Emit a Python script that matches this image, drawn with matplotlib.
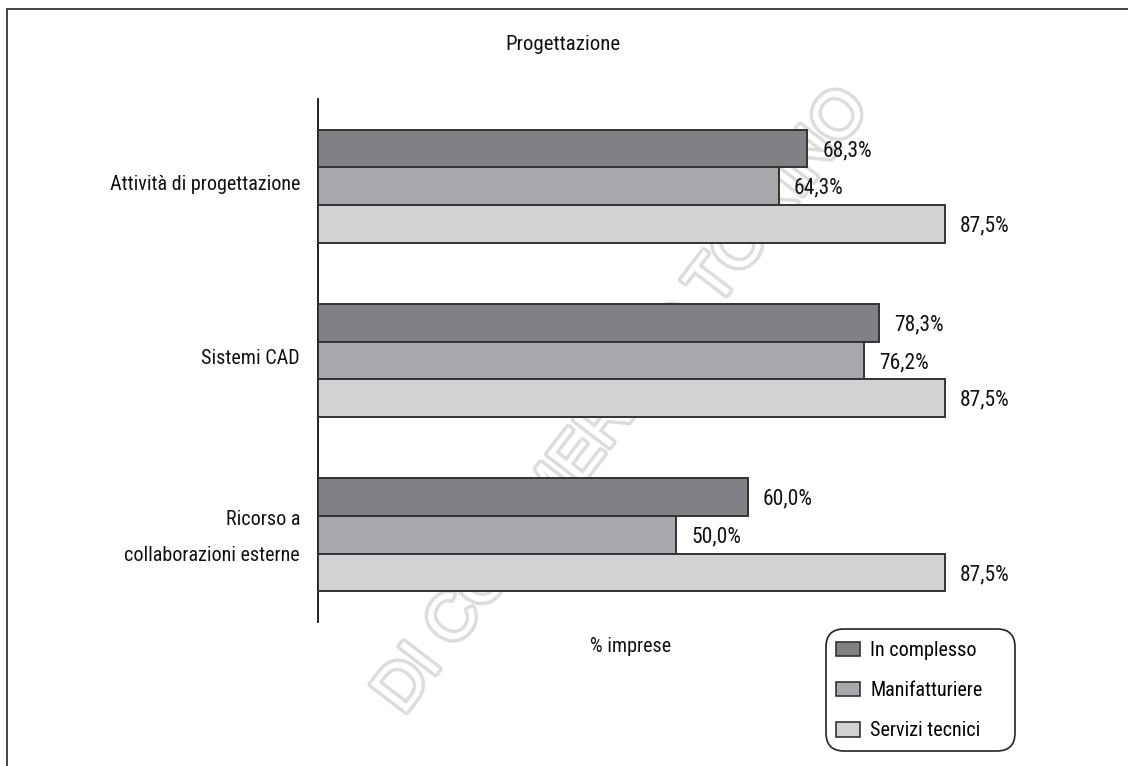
import matplotlib
matplotlib.use("Agg")
import matplotlib.pyplot as plt
from matplotlib import font_manager
from matplotlib.lines import Line2D
from matplotlib.patches import FancyBboxPatch
import matplotlib.patheffects as pe

# --- data -------------------------------------------------------------
categories = ["Attività di progettazione", "Sistemi CAD",
              "Ricorso a\ncollaborazioni esterne"]
series_names = ["In complesso", "Manifatturiere", "Servizi tecnici"]
in_complesso = [68.3, 78.3, 60.0]
manifatturiere = [64.3, 76.2, 50.0]
servizi_tecnici = [87.5, 87.5, 87.5]
title_text = "Progettazione"
xlabel_text = "% imprese"
watermark_text = "DI COMMERCIO TORINO"

series_values = [in_complesso, manifatturiere, servizi_tecnici]
colors = ["#808184", "#a7a8ab", "#d1d2d4"]
edge = "#333333"


def pick_narrow_font():
    """Return (family, stretch) of an installed narrow sans face, if any."""
    narrow = {"condensed", "semi-condensed", "extra-condensed",
              "ultra-condensed"}
    prefs = ["Liberation Sans Narrow", "Roboto Condensed",
             "Open Sans Condensed", "DejaVu Sans", "Noto Sans",
             "Open Sans", "Roboto"]
    found = {}
    for f in font_manager.fontManager.ttflist:
        nm = f.name
        st = str(f.stretch)
        if f.style != "normal":
            continue
        if "Narrow" in nm or "Condensed" in nm or st in narrow:
            if nm not in found:
                found[nm] = st if st in narrow else "normal"
    for p in prefs:
        if p in found:
            return p, found[p]
    for nm, st in found.items():
        if "Mono" not in nm and "Serif" not in nm:
            return nm, st
    return "DejaVu Sans", "normal"


FONT, STRETCH = pick_narrow_font()
plt.rcParams["font.family"] = [FONT, "DejaVu Sans"]
plt.rcParams["font.stretch"] = STRETCH

W, H = 1128, 766
fig = plt.figure(figsize=(W / 100, H / 100), dpi=100)


def fx(px):
    return px / W


def fy(py):
    return 1 - py / H


# frame lines around the panel
fig.add_artist(Line2D([fx(7), 1], [fy(8.5), fy(8.5)], color="#444444", lw=1.4,
                      transform=fig.transFigure))
fig.add_artist(Line2D([fx(7), fx(7)], [fy(8.5), 0], color="#444444", lw=1.4,
                      transform=fig.transFigure))

# faint outlined watermark, kept underneath the bars
bg = fig.add_axes([0, 0, 1, 1], zorder=-5)
bg.set_axis_off()
bg.set_xlim(0, 1)
bg.set_ylim(0, 1)
bg.text(fx(856), fy(98), watermark_text, rotation=52.5,
        rotation_mode="anchor", ha="right", va="center", fontsize=47,
        family="Liberation Sans", stretch="normal", color="white",
        path_effects=[pe.withStroke(linewidth=5.0, foreground="#dddddd")])

ax_left, ax_right, ax_top, ax_bottom = 318, 318 + 716.6, 99, 622
ax = fig.add_axes([fx(ax_left), fy(ax_bottom), fx(ax_right - ax_left),
                   (ax_bottom - ax_top) / H], zorder=1)
ax.patch.set_alpha(0)

bar_h = 0.216
offsets = [-bar_h, 0, bar_h]
ypos = list(range(len(categories)))
for vals, off, col in zip(series_values, offsets, colors):
    ys = [y + off for y in ypos]
    bars = ax.barh(ys, vals, height=bar_h, color=col, edgecolor=edge,
                   linewidth=1.4, zorder=3)
    for b, v in zip(bars, vals):
        ax.annotate(f"{v:.1f}%".replace(".", ","),
                    xy=(v, b.get_y() + b.get_height() / 2),
                    xytext=(15, -2), textcoords="offset pixels",
                    ha="left", va="center", fontsize=15.5, color="#111111")

# category labels to the left of the axis line
for y, lab in zip(ypos, categories):
    dy = -3 if "\n" in lab else 2
    ax.annotate(lab, xy=(0, y), xytext=(-18, dy), textcoords="offset pixels",
                ha="right", va="center", fontsize=14.5, color="#111111",
                linespacing=2.15, annotation_clip=False)

ax.set_xlim(0, 100)
ax.set_ylim(2.5, -0.5)
ax.set_yticks([])
ax.set_xticks([])
for s in ["top", "right", "bottom"]:
    ax.spines[s].set_visible(False)
ax.spines["left"].set_linewidth(1.3)
ax.spines["left"].set_color("#111111")

fig.text(fx(563), fy(50), title_text, ha="center", va="baseline",
         fontsize=15, color="#111111")
fig.text(fx(631), fy(652), xlabel_text, ha="center", va="baseline",
         fontsize=14.5, color="#111111")

# legend: rounded frame plus entries
fig.add_artist(FancyBboxPatch((fx(826), fy(751)), fx(1015 - 826),
                              (751 - 629) / H,
                              boxstyle="round,pad=0,rounding_size=0.016",
                              transform=fig.transFigure, facecolor="white",
                              edgecolor="#222222", lw=1.2,
                              mutation_aspect=W / H, zorder=2))
handles = [plt.Rectangle((0, 0), 1, 1, facecolor=c, edgecolor=edge, lw=1.2)
           for c in colors]
leg = fig.legend(handles, series_names, loc="upper left",
                 bbox_to_anchor=(fx(836), fy(641)), frameon=False,
                 fontsize=14.5, handlelength=1.2, handleheight=0.75,
                 handletextpad=0.5, labelspacing=1.05,
                 borderpad=0, borderaxespad=0)
leg.set_zorder(3)

fig.savefig("out.png", dpi=100)
